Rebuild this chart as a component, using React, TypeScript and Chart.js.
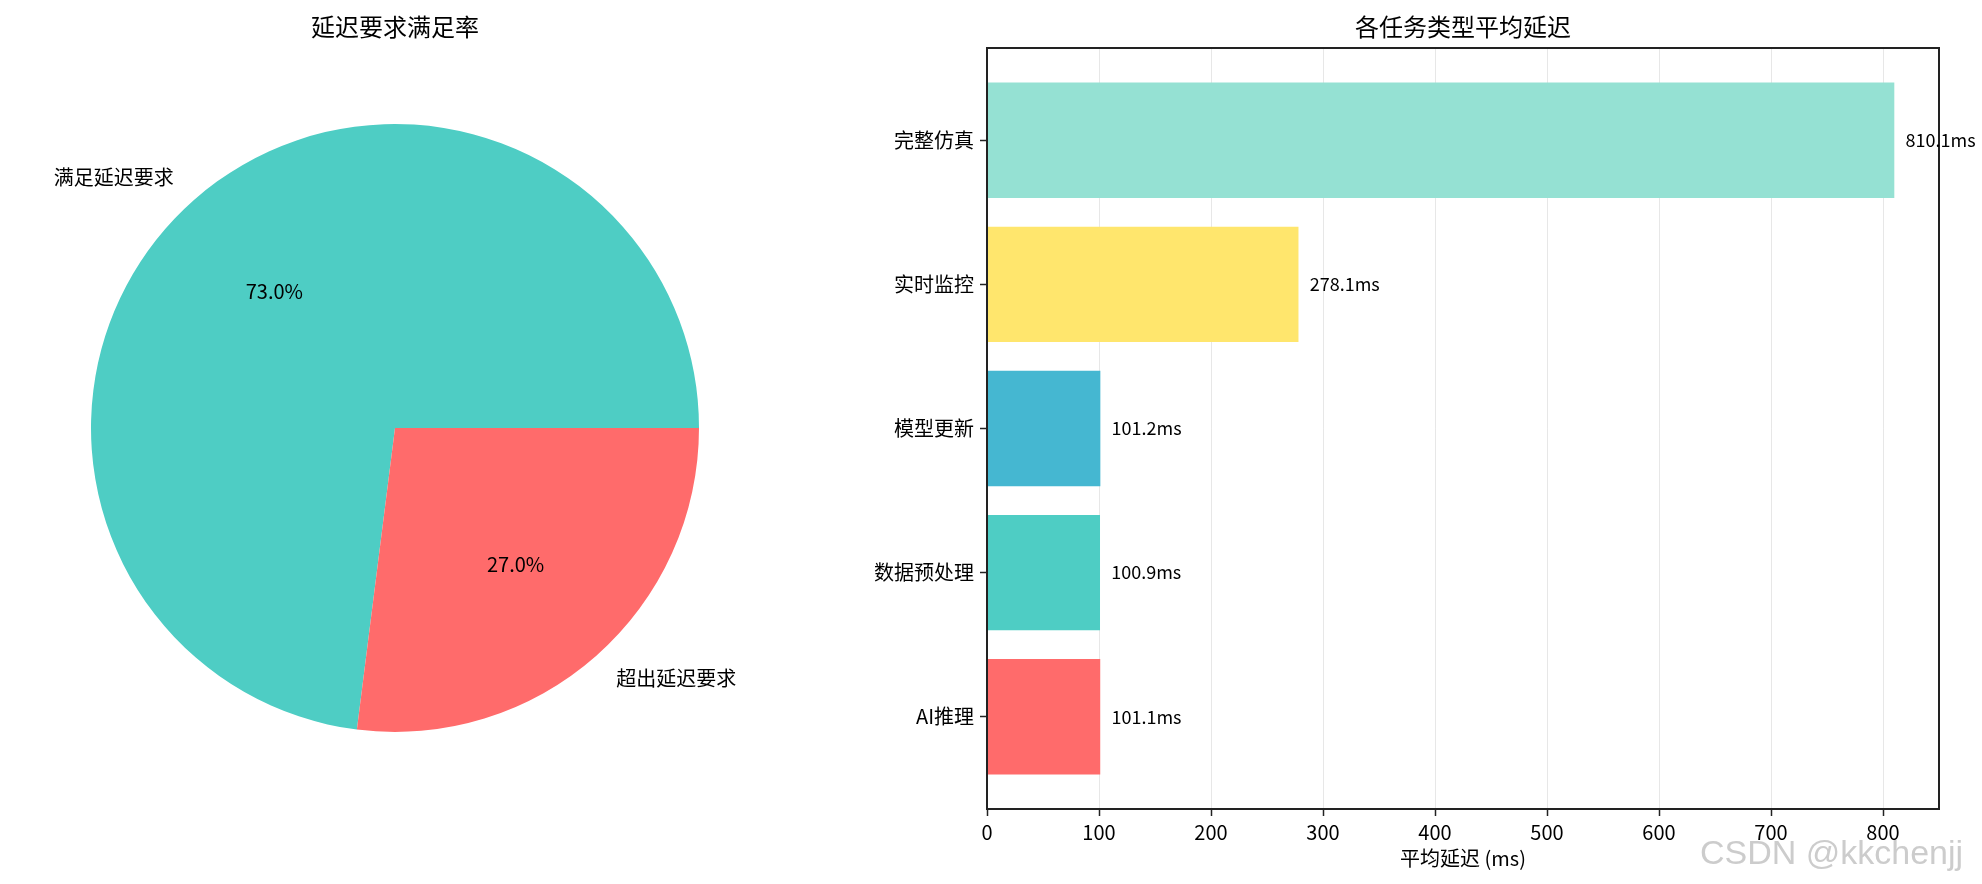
import React, { useEffect, useRef } from "react";
import { Chart, registerables } from "chart.js";

Chart.register(...registerables);

const FONT = '"Noto Sans CJK SC", "Noto Sans", sans-serif';
Chart.defaults.font.family = FONT;
Chart.defaults.color = "#000";

// pie: share of requests within the latency requirement
const pieTitle = "延迟要求满足率";
const pieLabels = ["满足延迟要求", "超出延迟要求"];
const pieValues = [73.0, 27.0];
const pieColors = ["#4ECDC4", "#FF6B6B"];

// bar: average latency per task type (ms)
const barTitle = "各任务类型平均延迟";
const taskTypes = ["AI推理", "数据预处理", "模型更新", "实时监控", "完整仿真"];
const avgLatency = [101.1, 100.9, 101.2, 278.1, 810.1];
const barColors = ["#FF6B6B", "#4ECDC4", "#45B7D1", "#FFE66D", "#95E1D3"];
const xAxisTitle = "平均延迟 (ms)";

const pieText = {
    id: "pieText",
    afterDraw(chart: any) {
        const ctx = chart.ctx;
        const meta = chart.getDatasetMeta(0);
        const total = pieValues.reduce((a, b) => a + b, 0);
        ctx.save();
        ctx.fillStyle = "#000";
        ctx.textBaseline = "middle";
        ctx.font = `20px ${FONT}`;
        meta.data.forEach((arc: any, i: number) => {
            const { x, y, startAngle, endAngle, outerRadius } = arc.getProps(
                ["x", "y", "startAngle", "endAngle", "outerRadius"],
                true
            );
            const mid = (startAngle + endAngle) / 2;
            const c = Math.cos(mid);
            const s = Math.sin(mid);
            ctx.textAlign = c < 0 ? "right" : "left";
            ctx.fillText(pieLabels[i], x + c * outerRadius * 1.1, y + s * outerRadius * 1.1);
            ctx.textAlign = "center";
            const pct = (pieValues[i] / total) * 100;
            ctx.fillText(pct.toFixed(1) + "%", x + c * outerRadius * 0.6, y + s * outerRadius * 0.6);
        });
        ctx.font = `24px ${FONT}`;
        ctx.textAlign = "center";
        ctx.fillText(pieTitle, (chart.chartArea.left + chart.chartArea.right) / 2, 27);
        ctx.restore();
    },
};

const barText = {
    id: "barText",
    afterDraw(chart: any) {
        const ctx = chart.ctx;
        const { left, right, top, bottom } = chart.chartArea;
        const xScale = chart.scales.x;
        const meta = chart.getDatasetMeta(0);
        ctx.save();
        // frame
        ctx.strokeStyle = "#222";
        ctx.lineWidth = 2;
        ctx.strokeRect(left, top, right - left, bottom - top);
        // value labels
        ctx.fillStyle = "#000";
        ctx.font = `18px ${FONT}`;
        ctx.textAlign = "left";
        ctx.textBaseline = "middle";
        meta.data.forEach((bar: any, i: number) => {
            const v = avgLatency[i];
            ctx.fillText(v.toFixed(1) + "ms", xScale.getPixelForValue(v + 10), bar.y);
        });
        // title
        ctx.font = `24px ${FONT}`;
        ctx.textAlign = "center";
        ctx.fillText(barTitle, (left + right) / 2, 27);
        ctx.restore();
    },
};

const App: React.FC = () => {
    const pieRef = useRef<HTMLCanvasElement | null>(null);
    const barRef = useRef<HTMLCanvasElement | null>(null);

    useEffect(() => {
        if (!pieRef.current || !barRef.current) return;

        const pie = new Chart(pieRef.current, {
            type: "pie",
            data: {
                labels: pieLabels,
                datasets: [
                    {
                        data: pieValues,
                        backgroundColor: pieColors,
                        borderWidth: 0,
                    },
                ],
            },
            options: {
                animation: false,
                responsive: false,
                // matplotlib starts at 3 o'clock counter-clockwise
                rotation: 90 + (360 * pieValues[1]) / (pieValues[0] + pieValues[1]),
                layout: { padding: { left: 91, right: 91, top: 124, bottom: 152 } },
                plugins: { legend: { display: false }, tooltip: { enabled: false } },
            },
            plugins: [pieText],
        });

        const bar = new Chart(barRef.current, {
            type: "bar",
            data: {
                labels: taskTypes,
                datasets: [
                    {
                        data: avgLatency.map((v, i) => ({ x: v, y: i })),
                        backgroundColor: barColors,
                        borderWidth: 0,
                        barPercentage: 0.8,
                        categoryPercentage: 1,
                    },
                ],
            },
            options: {
                animation: false,
                responsive: false,
                indexAxis: "y",
                layout: { padding: { top: 48, right: 43, left: 0, bottom: 0 } },
                plugins: { legend: { display: false }, tooltip: { enabled: false } },
                scales: {
                    x: {
                        type: "linear",
                        min: 0,
                        max: 850,
                        z: 1,
                        ticks: { stepSize: 100, includeBounds: false, font: { size: 20 }, padding: 4 },
                        grid: {
                            color: "rgba(176,176,176,0.3)",
                            tickColor: "#222",
                            tickLength: 7,
                            tickWidth: 1.5,
                        },
                        border: { display: false },
                        title: {
                            display: true,
                            text: xAxisTitle,
                            font: { size: 20 },
                            padding: { top: 0, bottom: 14 },
                        },
                        afterFit: (s: any) => {
                            s.height = 75;
                        },
                    },
                    y: {
                        type: "linear",
                        min: -0.64,
                        max: 4.64,
                        offset: false,
                        afterBuildTicks: (s: any) => {
                            s.ticks = taskTypes.map((_, i) => ({ value: i }));
                        },
                        ticks: {
                            callback: (v: any) => taskTypes[v],
                            font: { size: 20 },
                            padding: 6,
                        },
                        grid: {
                            offset: false,
                            drawOnChartArea: false,
                            tickColor: "#222",
                            tickLength: 7,
                            tickWidth: 1.5,
                        },
                        border: { display: false },
                        afterFit: (s: any) => {
                            s.width = 197;
                        },
                    },
                },
            },
            plugins: [barText],
        });

        return () => {
            pie.destroy();
            bar.destroy();
        };
    }, []);

    return (
        <div style={{ position: "absolute", left: 0, top: 0, width: 1982, height: 884, background: "#fff" }}>
            <canvas ref={pieRef} width={790} height={884} style={{ position: "absolute", left: 0, top: 0 }} />
            <canvas ref={barRef} width={1192} height={884} style={{ position: "absolute", left: 790, top: 0 }} />
            <span
                style={{
                    position: "absolute",
                    left: 1700,
                    top: 832,
                    fontFamily: '"Liberation Sans", Arial, sans-serif',
                    fontSize: 34,
                    lineHeight: "40px",
                    color: "rgba(170,170,170,0.6)",
                    whiteSpace: "nowrap",
                }}
            >
                CSDN @kkchenjj
            </span>
        </div>
    );
};

export default App;
